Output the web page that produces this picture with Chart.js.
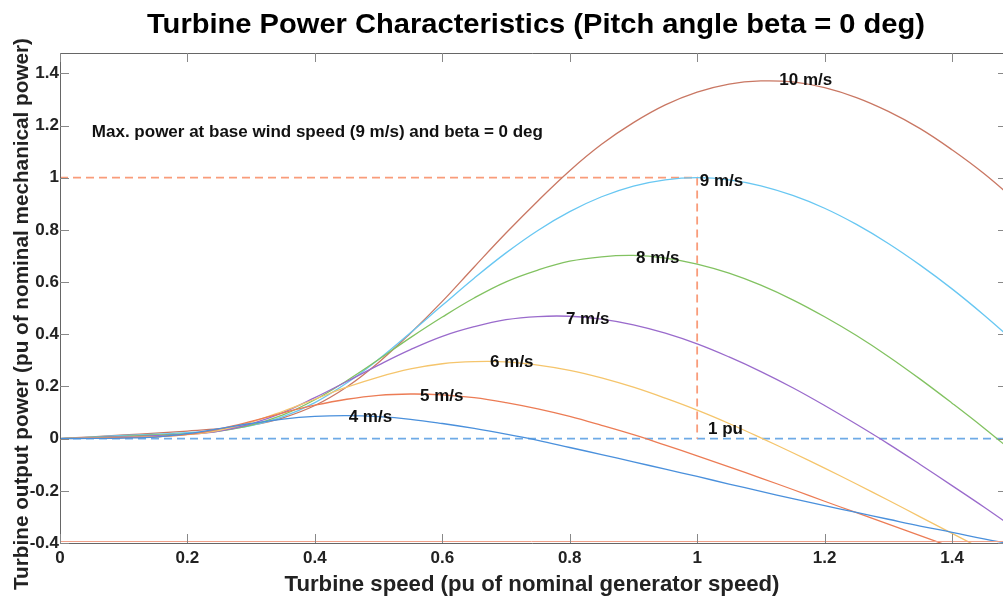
<!DOCTYPE html>
<html lang="en">
<head>
<meta charset="UTF-8">
<title>Turbine Power Characteristics</title>
<script src="https://cdn.jsdelivr.net/npm/chart.js"></script>
<style>
  html, body { margin: 0; padding: 0; background: #fff; }
</style>
</head>
<body>
<canvas id="turbine" width="1003" height="598"></canvas>
<script>
// turbine speed (pu of nominal generator speed)
const speed = [0, 0.05, 0.1, 0.15, 0.2, 0.25, 0.3, 0.35, 0.4, 0.45, 0.5, 0.55, 0.6, 0.65, 0.7, 0.75,
               0.8, 0.85, 0.9, 0.95, 1.0, 1.05, 1.1, 1.15, 1.2, 1.25, 1.3, 1.35, 1.4, 1.45, 1.5];

// output power (pu) per wind speed
const p4  = [0, 0.001, 0.002, 0.006, 0.019, 0.038, 0.058, 0.075, 0.085, 0.088, 0.084, 0.074, 0.058, 0.039, 0.017, -0.007,
             -0.034, -0.061, -0.089, -0.117, -0.145, -0.174, -0.202, -0.230, -0.257, -0.283, -0.309, -0.335, -0.359, -0.384, -0.407];
const p5  = [0, 0.002, 0.004, 0.007, 0.016, 0.037, 0.066, 0.099, 0.128, 0.151, 0.166, 0.171, 0.168, 0.157, 0.138, 0.114,
             0.085, 0.051, 0.015, -0.025, -0.066, -0.108, -0.151, -0.195, -0.240, -0.284, -0.328, -0.372, -0.416, -0.459, -0.501];
const p6  = [0, 0.003, 0.005, 0.008, 0.015, 0.032, 0.063, 0.105, 0.151, 0.197, 0.236, 0.267, 0.287, 0.295, 0.294, 0.282,
             0.262, 0.233, 0.197, 0.155, 0.109, 0.058, 0.003, -0.054, -0.113, -0.174, -0.236, -0.300, -0.363, -0.427, -0.491];
const p7  = [0, 0.004, 0.007, 0.011, 0.016, 0.029, 0.057, 0.100, 0.157, 0.219, 0.282, 0.341, 0.392, 0.429, 0.456, 0.468,
             0.469, 0.458, 0.436, 0.404, 0.363, 0.313, 0.257, 0.195, 0.127, 0.055, -0.020, -0.099, -0.180, -0.262, -0.347];
const p8  = [0, 0.005, 0.009, 0.014, 0.019, 0.029, 0.052, 0.091, 0.149, 0.222, 0.303, 0.387, 0.466, 0.539, 0.601, 0.646,
             0.680, 0.697, 0.702, 0.692, 0.669, 0.634, 0.588, 0.532, 0.467, 0.395, 0.315, 0.228, 0.136, 0.041, -0.059];
const p9  = [0, 0.006, 0.012, 0.017, 0.023, 0.032, 0.050, 0.084, 0.138, 0.213, 0.304, 0.406, 0.511, 0.615, 0.712, 0.798,
             0.870, 0.927, 0.968, 0.992, 1.000, 0.992, 0.969, 0.932, 0.883, 0.821, 0.748, 0.665, 0.574, 0.474, 0.367];
const p10 = [0, 0.007, 0.014, 0.021, 0.029, 0.038, 0.052, 0.080, 0.127, 0.198, 0.292, 0.404, 0.526, 0.658, 0.788, 0.911,
             1.027, 1.128, 1.211, 1.279, 1.328, 1.359, 1.371, 1.367, 1.345, 1.307, 1.254, 1.188, 1.107, 1.016, 0.912];

const windLabels = ['4 m/s', '5 m/s', '6 m/s', '7 m/s', '8 m/s', '9 m/s', '10 m/s'];
const series = [p4, p5, p6, p7, p8, p9, p10];
const colors = ['#4a90dc', '#ec7c55', '#f5c56c', '#9a6bcc', '#82c261', '#68c7f2', '#c97763'];

// 1 pu marker at base wind speed and zero line
const refX = [0, 1, 1];
const refY = [1, 1, 0];
const zeroX = [0, 1.48];
const zeroY = [0, 0];

const xTicks = [0, 0.2, 0.4, 0.6, 0.8, 1, 1.2, 1.4];
const yTicks = [-0.4, -0.2, 0, 0.2, 0.4, 0.6, 0.8, 1, 1.2, 1.4];

// text placed in data coordinates (left edge, vertical middle)
const notes = [
  { text: '10 m/s', x: 1.129, y: 1.373 },
  { text: '9 m/s', x: 1.004, y: 0.988 },
  { text: '8 m/s', x: 0.904, y: 0.692 },
  { text: '7 m/s', x: 0.794, y: 0.458 },
  { text: '6 m/s', x: 0.675, y: 0.292 },
  { text: '5 m/s', x: 0.565, y: 0.162 },
  { text: '4 m/s', x: 0.453, y: 0.081 },
  { text: '1 pu', x: 1.017, y: 0.035 },
  { text: 'Max. power at base wind speed (9 m/s) and beta = 0 deg', x: 0.05, y: 1.173 }
];

const FONT = '"Liberation Sans", Arial, sans-serif';
const fmt = v => String(Math.round(v * 10) / 10);
const pts = (xs, ys) => xs.map((x, i) => ({ x: x, y: ys[i] }));

const datasets = series.map((ys, i) => ({
  label: windLabels[i],
  data: pts(speed, ys),
  borderColor: colors[i],
  borderWidth: 1.3,
  pointRadius: 0,
  tension: 0.4,
  fill: false
}));
datasets.push({
  label: 'ref', data: pts(refX, refY), borderColor: '#f99c7a', borderWidth: 1.8,
  borderDash: [8, 5], pointRadius: 0, tension: 0, fill: false
});
datasets.push({
  label: 'zero', data: pts(zeroX, zeroY), borderColor: '#6eaae6', borderWidth: 1.8,
  borderDash: [8, 5], pointRadius: 0, tension: 0, fill: false
});

function textFit(ctx, str, x, y, w) {
  const m = ctx.measureText(str).width;
  ctx.save();
  ctx.translate(x, y);
  ctx.scale(w / m, 1);
  ctx.textAlign = 'center';
  ctx.fillText(str, 0, 0);
  ctx.restore();
}

const frame = {
  id: 'frame',
  afterDatasetsDraw(chart) {
    const { ctx, chartArea: a, scales: { x, y } } = chart;
    ctx.save();
    // box
    ctx.lineWidth = 1;
    ctx.strokeStyle = '#f0a08a';
    ctx.beginPath(); ctx.moveTo(a.left, a.bottom - 1.5); ctx.lineTo(a.right, a.bottom - 1.5); ctx.stroke();
    ctx.strokeStyle = '#666';
    ctx.beginPath();
    ctx.moveTo(a.left + 0.5, a.top + 0.5); ctx.lineTo(a.right + 1, a.top + 0.5);
    ctx.moveTo(a.left + 0.5, a.top); ctx.lineTo(a.left + 0.5, a.bottom + 0.5);
    ctx.lineTo(a.right + 1, a.bottom + 0.5);
    ctx.stroke();
    // inward ticks
    ctx.strokeStyle = '#888';
    ctx.beginPath();
    xTicks.forEach(v => {
      const px = Math.round(x.getPixelForValue(v)) + 0.5;
      ctx.moveTo(px, a.bottom); ctx.lineTo(px, a.bottom - 9);
      ctx.moveTo(px, a.top); ctx.lineTo(px, a.top + 9);
    });
    yTicks.forEach(v => {
      const py = Math.round(y.getPixelForValue(v)) + 0.5;
      ctx.moveTo(a.left, py); ctx.lineTo(a.left + 9, py);
      ctx.moveTo(a.right, py); ctx.lineTo(a.right - 5, py);
    });
    ctx.stroke();
    // tick labels
    ctx.fillStyle = '#222';
    ctx.font = 'bold 17px ' + FONT;
    ctx.textAlign = 'center';
    ctx.textBaseline = 'alphabetic';
    xTicks.forEach(v => ctx.fillText(fmt(v), x.getPixelForValue(v), 563));
    ctx.textAlign = 'right';
    ctx.textBaseline = 'middle';
    yTicks.forEach(v => ctx.fillText(fmt(v), a.left - 1, y.getPixelForValue(v)));
    // notes
    ctx.fillStyle = '#111';
    ctx.textAlign = 'left';
    notes.forEach(n => ctx.fillText(n.text, x.getPixelForValue(n.x), y.getPixelForValue(n.y)));
    // titles
    ctx.textBaseline = 'alphabetic';
    ctx.fillStyle = '#000';
    ctx.font = 'bold 28px ' + FONT;
    textFit(ctx, 'Turbine Power Characteristics (Pitch angle beta = 0 deg)', 536, 33, 778);
    ctx.fillStyle = '#222';
    ctx.font = 'bold 22px ' + FONT;
    textFit(ctx, 'Turbine speed (pu of nominal generator speed)', 532, 591, 495);
    ctx.save();
    ctx.translate(28, 314);
    ctx.rotate(-Math.PI / 2);
    ctx.font = 'bold 21px ' + FONT;
    textFit(ctx, 'Turbine output power (pu of nominal mechanical power)', 0, 0, 552);
    ctx.restore();
    ctx.restore();
  }
};

new Chart(document.getElementById('turbine'), {
  type: 'line',
  data: { datasets: datasets },
  options: {
    responsive: false,
    animation: false,
    devicePixelRatio: 1,
    layout: { padding: { top: 53, left: 0, right: 0, bottom: 0 } },
    plugins: { legend: { display: false }, tooltip: { enabled: false }, title: { display: false } },
    scales: {
      x: {
        type: 'linear', min: 0, max: 1.48,
        grid: { display: false }, border: { display: false }, ticks: { display: false },
        afterFit: s => { s.height = 55; }
      },
      y: {
        type: 'linear', min: -0.4, max: 1.478,
        grid: { display: false }, border: { display: false }, ticks: { display: false },
        afterFit: s => { s.width = 60; }
      }
    }
  },
  plugins: [frame]
});
</script>
</body>
</html>
